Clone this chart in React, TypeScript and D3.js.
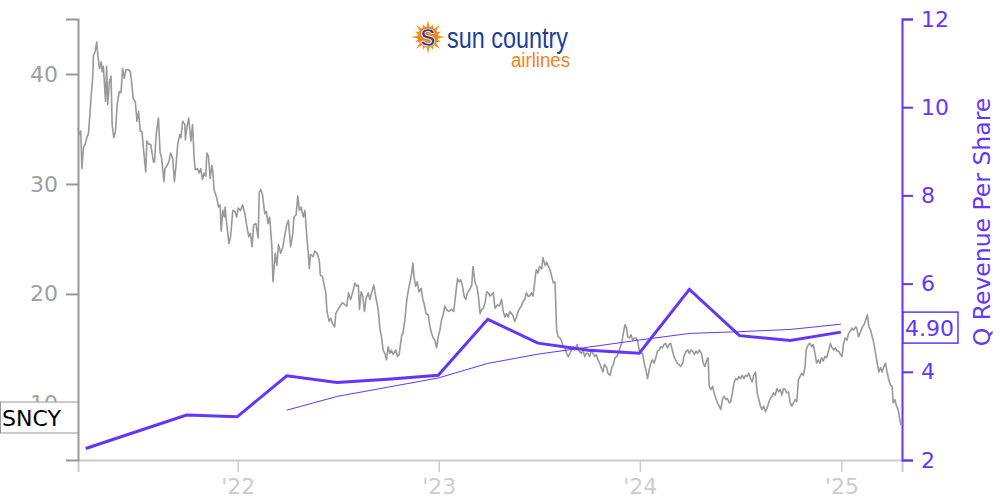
import React, { useEffect, useRef } from "react";
import * as d3 from "d3";

// ---------- data ----------
const TICKER = "SNCY";
const LISTING_DATE = "2021-03-17";
const DOMAIN_END_DAYS = 1496;
const PRICE_DOMAIN = [4.9, 45];
const REV_DOMAIN = [2, 12];
const PRICE_TICKS = [10, 20, 30, 40];
const REV_TICKS = [2, 4, 6, 8, 10, 12];
const YEAR_TICKS = ["2022-01-01", "2023-01-01", "2024-01-01", "2025-01-01"];
const RIGHT_LABEL = "Q Revenue Per Share";
const LAST_REV_LABEL = "4.90";

// [calendar days after listing, close]
const PRICE: [number, number][] = [
  [0,35.1],[2,34.5],[5,34.8],[7,31.4],[10,33.3],[13,33.6],[16,34.2],[19,34.6],[22,36.6],[24,38.1],[27,39.9],[28,41.7],[31,42.0],[34,42.9],[36,41.7],[39,40.5],[42,41.1],[44,40.2],[46,40.7],[50,37.5],[52,40.7],[54,37.2],[57,39.3],[60,39.8],[62,35.4],[65,34.2],[68,34.8],[71,37.2],[75,38.4],[78,38.3],[81,40.5],[84,39.6],[87,40.4],[92,40.4],[95,40.2],[98,39.0],[100,37.8],[104,37.5],[107,35.7],[110,36.6],[113,34.8],[116,34.8],[120,32.6],[123,31.1],[125,33.9],[129,33.6],[132,33.6],[137,32.0],[139,32.0],[142,34.5],[146,36.0],[149,32.9],[152,32.3],[156,30.2],[158,31.4],[162,31.7],[165,32.0],[168,32.8],[172,32.3],[175,30.2],[178,31.7],[181,33.6],[185,34.5],[187,34.2],[190,35.7],[194,35.4],[195,34.0],[197,34.9],[201,36.0],[205,33.9],[208,35.4],[211,32.2],[213,31.3],[217,31.4],[220,31.0],[223,31.4],[226,30.4],[229,31.0],[232,30.7],[234,32.8],[237,32.5],[240,30.5],[243,31.7],[245,31.0],[247,29.5],[252,28.7],[255,27.9],[258,28.1],[260,25.7],[263,27.6],[266,27.0],[267,27.9],[270,26.4],[274,24.6],[277,25.2],[281,27.6],[285,27.5],[288,27.0],[291,27.8],[295,27.6],[299,28.1],[303,27.3],[306,26.3],[310,25.2],[313,25.5],[316,24.3],[319,26.3],[323,26.4],[327,25.1],[329,29.2],[332,29.5],[335,29.0],[339,27.3],[342,27.5],[345,26.4],[348,27.0],[352,24.3],[354,21.1],[358,23.7],[361,22.6],[364,24.5],[368,23.7],[372,24.3],[375,25.2],[379,26.3],[382,26.7],[386,24.3],[390,25.5],[392,27.0],[396,27.2],[399,28.9],[402,27.6],[405,27.9],[409,27.0],[412,27.6],[415,25.5],[418,23.7],[420,22.3],[422,23.6],[427,23.4],[430,23.9],[434,23.7],[438,23.1],[440,21.7],[444,21.6],[446,21.0],[450,20.1],[452,18.4],[456,17.5],[459,17.8],[462,17.3],[466,17.0],[468,18.2],[472,18.6],[476,18.9],[480,19.2],[485,19.0],[488,18.9],[491,20.1],[495,19.5],[499,20.2],[503,21.0],[506,20.7],[509,20.8],[511,18.6],[514,20.2],[517,19.8],[520,18.4],[523,19.6],[527,20.1],[530,19.5],[533,20.1],[537,20.8],[541,19.6],[545,18.6],[548,16.9],[551,16.1],[554,14.9],[557,14.6],[560,14.0],[563,15.2],[566,14.6],[569,14.9],[572,14.5],[577,14.9],[580,14.3],[583,14.5],[588,16.3],[590,16.4],[594,17.9],[597,19.5],[600,20.4],[603,21.1],[606,21.9],[608,22.8],[610,21.6],[613,20.7],[616,21.1],[619,20.2],[623,20.5],[626,19.5],[628,19.2],[632,18.2],[636,18.1],[639,17.0],[642,16.4],[645,16.0],[648,15.8],[651,15.1],[654,16.1],[657,16.7],[660,17.6],[663,18.1],[666,18.9],[669,18.6],[673,18.4],[678,18.6],[682,18.4],[686,20.1],[689,21.4],[692,21.1],[695,21.3],[698,20.7],[701,19.8],[704,19.5],[707,20.1],[711,20.4],[715,20.8],[717,22.5],[721,21.0],[724,20.7],[727,19.8],[730,18.2],[733,18.6],[736,18.7],[739,19.2],[742,20.2],[745,20.1],[748,19.8],[754,20.1],[757,18.7],[761,19.0],[765,18.9],[769,19.5],[772,18.4],[775,17.9],[778,18.2],[781,17.9],[784,18.4],[789,18.1],[793,17.5],[796,17.9],[799,18.4],[802,18.7],[805,18.9],[808,19.3],[811,19.5],[814,20.1],[817,19.8],[820,19.8],[823,20.1],[826,19.8],[829,21.0],[832,22.2],[835,21.9],[838,22.5],[842,22.3],[844,23.3],[848,22.6],[851,22.9],[854,22.5],[857,22.2],[860,21.6],[863,21.0],[866,21.1],[869,16.7],[872,16.1],[875,16.0],[878,15.7],[881,15.2],[884,15.1],[887,14.6],[890,14.3],[893,14.6],[896,14.9],[899,15.2],[902,14.9],[906,15.4],[910,14.8],[914,14.6],[917,14.9],[920,14.3],[923,14.6],[926,14.6],[929,14.3],[932,14.9],[935,14.6],[938,14.3],[941,14.5],[944,14.0],[947,13.7],[950,13.3],[953,12.9],[956,13.6],[960,13.3],[962,12.8],[966,12.6],[969,13.3],[972,13.6],[975,14.2],[978,14.3],[981,14.6],[984,15.1],[987,15.5],[990,16.4],[993,17.2],[996,16.9],[998,16.1],[1001,16.0],[1004,16.3],[1007,15.8],[1010,16.0],[1013,16.0],[1016,15.7],[1019,14.9],[1022,14.6],[1025,14.6],[1028,13.7],[1031,13.1],[1034,12.3],[1037,13.1],[1040,13.7],[1043,14.0],[1046,13.7],[1049,14.2],[1052,14.8],[1055,14.9],[1058,15.2],[1061,15.1],[1064,15.4],[1067,15.5],[1070,15.1],[1073,15.4],[1076,15.5],[1079,14.9],[1082,14.3],[1085,14.0],[1088,13.7],[1091,13.6],[1094,13.4],[1098,13.7],[1100,14.3],[1104,14.8],[1107,14.9],[1110,14.6],[1113,14.9],[1116,14.8],[1119,14.5],[1122,14.8],[1125,14.6],[1128,14.9],[1132,14.6],[1135,13.7],[1138,13.4],[1141,13.9],[1144,14.2],[1146,11.6],[1149,11.3],[1152,11.6],[1155,11.0],[1158,10.5],[1161,10.1],[1164,9.8],[1167,9.5],[1170,10.4],[1173,10.7],[1176,10.4],[1179,10.5],[1182,10.1],[1185,10.2],[1188,11.0],[1191,11.9],[1194,12.3],[1197,12.2],[1200,12.5],[1203,12.3],[1206,12.6],[1209,12.3],[1212,12.6],[1215,12.5],[1218,12.8],[1221,12.3],[1224,12.0],[1227,12.6],[1230,12.9],[1233,11.0],[1236,10.4],[1239,9.8],[1242,9.5],[1245,9.8],[1248,9.3],[1251,9.6],[1254,10.1],[1257,10.5],[1260,10.7],[1263,11.0],[1266,10.8],[1269,11.4],[1272,11.1],[1275,11.3],[1278,10.8],[1281,11.4],[1284,11.3],[1287,11.0],[1290,11.1],[1293,10.1],[1296,9.8],[1299,10.1],[1302,10.4],[1305,10.2],[1308,12.2],[1311,12.5],[1314,12.8],[1317,12.6],[1320,13.4],[1322,14.9],[1326,15.4],[1329,15.5],[1332,15.2],[1335,15.4],[1338,14.6],[1341,13.7],[1344,14.0],[1347,13.7],[1350,14.2],[1353,13.9],[1356,14.3],[1359,14.2],[1363,14.9],[1366,15.5],[1369,15.1],[1372,14.9],[1375,15.1],[1378,14.8],[1381,14.8],[1384,14.5],[1387,14.3],[1390,15.5],[1393,16.0],[1396,15.8],[1399,16.4],[1402,16.6],[1405,16.9],[1408,16.7],[1412,17.0],[1414,16.9],[1417,16.1],[1421,16.6],[1424,17.0],[1427,17.2],[1430,17.6],[1433,18.1],[1436,17.0],[1439,16.7],[1442,16.1],[1445,15.5],[1448,14.6],[1451,13.7],[1454,12.9],[1457,13.3],[1460,12.9],[1463,13.4],[1466,13.7],[1469,12.9],[1472,12.2],[1475,11.7],[1478,11.6],[1480,10.1],[1483,10.4],[1486,9.8],[1489,9.5],[1492,8.6],[1494,8.1]
];

const QUARTERS = ["2021-03-31","2021-09-30","2021-12-31","2022-03-31","2022-06-30","2022-09-30","2022-12-31","2023-03-31","2023-06-30","2023-09-30","2023-12-31","2024-03-31","2024-06-30","2024-09-30","2024-12-31"];
const REV_PER_SHARE = [2.26,3.02,2.98,3.91,3.76,3.83,3.92,5.19,4.65,4.49,4.42,5.87,4.82,4.71,4.90];
const TTM_QUARTERS = ["2022-03-31","2022-06-30","2022-09-30","2022-12-31","2023-03-31","2023-06-30","2023-09-30","2023-12-31","2024-03-31","2024-06-30","2024-09-30","2024-12-31"];
const TTM_AVG = [3.13,3.44,3.65,3.86,4.19,4.40,4.56,4.72,4.87,4.91,4.96,5.08];

// ---------- styles ----------
const W = 1000, H = 500;
const M = { left: 78, right: 98, top: 19, bottom: 40 };
const PURPLE = "#6236ff";
const GRAY = "#999999";
const LIGHT = "#cccccc";
const FONT = "DejaVu Sans, sans-serif";
const FS = 22;

const parse = d3.utcParse("%Y-%m-%d");

export default function App() {
  const ref = useRef<SVGSVGElement | null>(null);

  useEffect(() => {
    const svg = d3.select(ref.current);
    svg.selectAll("*").remove();

    const start = parse(LISTING_DATE) as Date;
    const end = d3.utcDay.offset(start, DOMAIN_END_DAYS);
    const x = d3.scaleUtc().domain([start, end]).range([M.left, W - M.right]);
    const yL = d3.scaleLinear().domain(PRICE_DOMAIN).range([H - M.bottom, M.top]);
    const yR = d3.scaleLinear().domain(REV_DOMAIN).range([H - M.bottom, M.top]);

    // x axis
    const gx = svg.append("g").attr("transform", `translate(0,${H - M.bottom})`)
      .call(d3.axisBottom(x)
        .tickValues(YEAR_TICKS.map((d) => parse(d) as Date))
        .tickFormat((d: any) => "'" + d3.utcFormat("%y")(d))
        .tickSize(12).tickSizeOuter(12));
    gx.select(".domain").attr("stroke", LIGHT).attr("stroke-width", 2);
    gx.selectAll(".tick line").attr("stroke", LIGHT).attr("stroke-width", 1.5);
    gx.selectAll(".tick text").attr("fill", LIGHT).attr("font-size", FS).attr("font-family", FONT).attr("dy", "0.85em");

    // left axis
    const gl = svg.append("g").attr("transform", `translate(${M.left},0)`)
      .call(d3.axisLeft(yL).tickValues(PRICE_TICKS).tickSize(12).tickSizeOuter(12));
    gl.select(".domain").attr("stroke", GRAY).attr("stroke-width", 2);
    gl.selectAll(".tick line").attr("stroke", GRAY).attr("stroke-width", 2);
    gl.selectAll(".tick text").attr("fill", "#a0a0a0").attr("font-size", FS).attr("font-family", FONT).attr("x", -20);

    // right axis
    const gr = svg.append("g").attr("transform", `translate(${W - M.right},0)`)
      .call(d3.axisRight(yR).tickValues(REV_TICKS).tickSize(11).tickSizeOuter(11));
    gr.select(".domain").attr("stroke", PURPLE).attr("stroke-width", 2);
    gr.selectAll(".tick line").attr("stroke", PURPLE).attr("stroke-width", 2);
    gr.selectAll(".tick text").attr("fill", PURPLE).attr("font-size", FS).attr("font-family", FONT).attr("x", 19);

    svg.append("text")
      .attr("transform", `translate(982,222) rotate(-90)`)
      .attr("text-anchor", "middle").attr("dominant-baseline", "central")
      .attr("fill", PURPLE).attr("font-size", 23.5).attr("font-family", FONT)
      .text(RIGHT_LABEL);

    // price line
    const priceLine = d3.line<[number, number]>()
      .x((d) => x(d3.utcDay.offset(start, d[0])))
      .y((d) => yL(d[1]));
    svg.append("path").datum(PRICE).attr("d", priceLine).attr("fill", "none")
      .attr("stroke", GRAY).attr("stroke-width", 1.6).attr("stroke-linejoin", "round");

    // TTM thin line
    const ttm = TTM_QUARTERS.map((q, i) => [parse(q) as Date, TTM_AVG[i]] as [Date, number]);
    const rl = d3.line<[Date, number]>().x((d) => x(d[0])).y((d) => yR(d[1]));
    svg.append("path").datum(ttm).attr("d", rl).attr("fill", "none").attr("stroke", PURPLE).attr("stroke-width", 1);

    const rev = QUARTERS.map((q, i) => [parse(q) as Date, REV_PER_SHARE[i]] as [Date, number]);
    svg.append("path").datum(rev).attr("d", rl).attr("fill", "none").attr("stroke", PURPLE).attr("stroke-width", 3);

    // last revenue label
    const ly = yR(REV_PER_SHARE[REV_PER_SHARE.length - 1]);
    svg.append("rect").attr("x", W - M.right + 1).attr("y", ly - 20).attr("width", 55).attr("height", 31)
      .attr("fill", "white").attr("stroke", PURPLE).attr("stroke-width", 1.5);
    svg.append("text").attr("x", W - M.right + 3).attr("y", ly - 4).attr("dominant-baseline", "central")
      .attr("fill", PURPLE).attr("font-size", FS).attr("font-family", FONT).text(LAST_REV_LABEL);

    // ticker box
    svg.append("rect").attr("x", 0.5).attr("y", 402).attr("width", M.left - 0.5).attr("height", 31)
      .attr("fill", "white").attr("stroke", GRAY).attr("stroke-width", 1);
    svg.append("text").attr("x", 2).attr("y", 418).attr("dominant-baseline", "central")
      .attr("fill", "black").attr("font-size", FS).attr("font-family", FONT).text(TICKER);

    // logo
    const logo = svg.append("g");
    const cx = 428, cy = 37;
    const rays = d3.range(16);
    logo.selectAll("path.ray").data(rays).join("path")
      .attr("d", (i) => {
        const a = (i / 16) * Math.PI * 2;
        const w = 0.2;
        const r1 = 9, r2 = i % 2 === 0 ? 17 : 14;
        const p = (r: number, t: number) => `${cx + r * Math.cos(t)},${cy + r * Math.sin(t)}`;
        return `M${p(r1, a - w)}L${p(r2, a)}L${p(r1, a + w)}Z`;
      })
      .attr("fill", "#f7941d");
    logo.append("circle").attr("cx", cx).attr("cy", cy).attr("r", 10.5).attr("fill", "#f58220");
    logo.append("text").attr("x", cx).attr("y", cy + 1).attr("text-anchor", "middle").attr("dominant-baseline", "central")
      .attr("font-size", 23).attr("font-weight", "bold").attr("font-family", "Liberation Sans, sans-serif")
      .attr("fill", "#1f3f8f").attr("stroke", "white").attr("stroke-width", 0.7).text("S");
    logo.append("text").attr("x", 447).attr("y", 48).attr("font-size", 29).attr("font-family", "Liberation Sans, sans-serif")
      .attr("fill", "#213f93").attr("textLength", 121).attr("lengthAdjust", "spacingAndGlyphs").text("sun country");
    logo.append("text").attr("x", 511).attr("y", 67).attr("font-size", 20).attr("font-family", "Liberation Sans, sans-serif")
      .attr("fill", "#f58220").attr("textLength", 59).attr("lengthAdjust", "spacingAndGlyphs").text("airlines");
  }, []);

  return (
    <svg ref={ref} width={W} height={H}
      style={{ position: "absolute", left: 0, top: 0, background: "white", display: "block" }} />
  );
}
